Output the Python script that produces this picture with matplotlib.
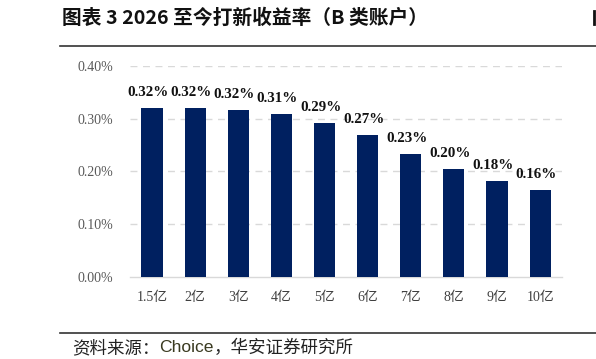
import matplotlib
matplotlib.use("Agg")
import matplotlib.pyplot as plt
from matplotlib.lines import Line2D
from matplotlib.ticker import FuncFormatter

categories = ["1.5亿", "2亿", "3亿", "4亿", "5亿", "6亿", "7亿", "8亿", "9亿", "10亿"]
values = [0.320, 0.320, 0.317, 0.309, 0.291, 0.268, 0.232, 0.204, 0.182, 0.164]
labels = ["0.32%", "0.32%", "0.32%", "0.31%", "0.29%", "0.27%", "0.23%", "0.20%", "0.18%", "0.16%"]
yticks = [0.0, 0.1, 0.2, 0.3, 0.4]

title = "图表 3 2026 至今打新收益率（B 类账户）"
source_a = "资料来源："
source_b = "Choice"
source_c = "，华安证券研究所"

W, H, DPI = 596, 359, 100
fig = plt.figure(figsize=(W / DPI, H / DPI), dpi=DPI)
fig.patch.set_facecolor("white")

ax = fig.add_axes([130 / W, 1 - 277 / H, (561.7 - 130) / W, (277 - 65.7) / H])
x = list(range(len(categories)))
ax.bar(x, values, width=0.49, color="#002060", zorder=3)
ax.set_xlim(-0.51, len(categories) - 0.5)
ax.set_ylim(0, 0.4)
ax.set_yticks(yticks)
ax.yaxis.set_major_formatter(FuncFormatter(lambda v, p: f"{v:.2f}%"))
ax.set_xticks(x)
ax.set_xticklabels(categories)

for sp in ["left", "right", "top"]:
    ax.spines[sp].set_visible(False)
ax.spines["bottom"].set_color("#d9d9d9")
ax.spines["bottom"].set_linewidth(1.0)
ax.tick_params(axis="both", length=0)
ax.tick_params(axis="y", pad=12, labelcolor="#595959")
ax.tick_params(axis="x", pad=10, labelcolor="#404040")
for lab in ax.get_yticklabels():
    lab.set_fontfamily(["Liberation Serif", "Noto Sans CJK SC"])
    lab.set_fontsize(10)
for lab in ax.get_xticklabels():
    lab.set_fontfamily(["Liberation Serif", "Noto Sans CJK SC"])
    lab.set_fontsize(10)

for yv in yticks[1:]:
    ax.axhline(yv, color="#d9d9d9", lw=1.0, ls=(0, (5, 4)), zorder=1)

for xi, v, lab in zip(x, values, labels):
    ax.annotate(lab, (xi, v), xytext=(-4, 9), textcoords="offset pixels",
                ha="center", va="bottom", fontsize=10.8, fontweight="bold",
                family="Liberation Serif", color="#111111")

# title and header line
fig.text(62 / W, 1 - 18 / H, title, fontsize=14.2, fontweight="bold",
         family=["Noto Sans CJK SC", "DejaVu Sans"], ha="left", va="center", color="#111111")
fig.add_artist(Line2D([60 / W, 1.0], [1 - 45.5 / H] * 2, color="#333333", lw=1.2))
fig.add_artist(Line2D([593.5 / W] * 2, [1 - 11 / H, 1 - 24 / H], color="#111111", lw=2.0))

# footer line and source
fig.add_artist(Line2D([60 / W, 1.0], [1 - 332.5 / H] * 2, color="#333333", lw=1.2))
t1 = fig.text(72 / W, 1 - 348 / H, source_a, fontsize=12.6,
              family=["Noto Sans CJK SC", "DejaVu Sans"], ha="left", va="center", color="#222222")
fig.canvas.draw()
r = fig.canvas.get_renderer()
bb = t1.get_window_extent(r)
t2 = fig.text(bb.x1 / W, 1 - 348 / H, source_b, fontsize=12.6,
              family="Liberation Sans", ha="left", va="center", color="#3a3a20")
bb2 = t2.get_window_extent(r)
fig.text(bb2.x1 / W, 1 - 348 / H, source_c, fontsize=12.6,
         family=["Noto Sans CJK SC", "DejaVu Sans"], ha="left", va="center", color="#222222")

fig.savefig("out.png", dpi=DPI)
